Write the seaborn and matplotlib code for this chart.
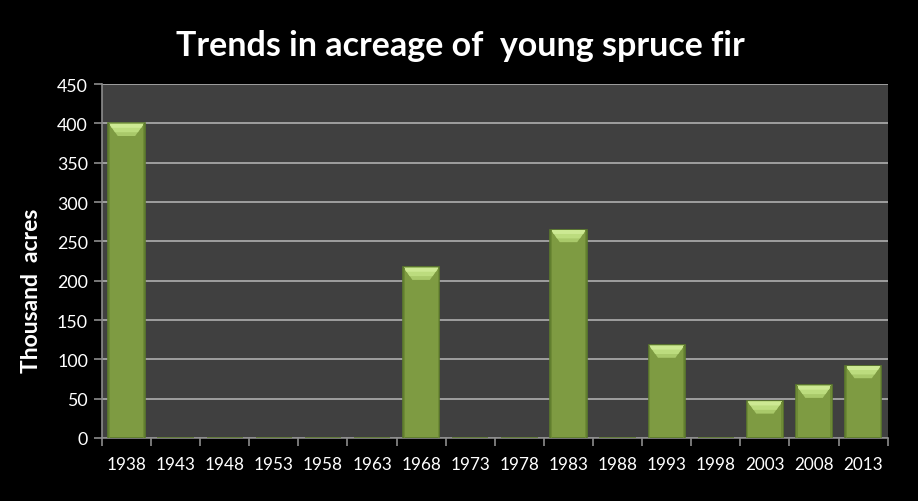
import matplotlib
matplotlib.use("Agg")
import matplotlib.pyplot as plt
from matplotlib.patches import Polygon
import seaborn as sns
import pandas as pd

years = ["1938", "1943", "1948", "1953", "1958", "1963", "1968", "1973",
         "1978", "1983", "1988", "1993", "1998", "2003", "2008", "2013"]
acres = [400, 0, 0, 0, 0, 0, 217, 0, 0, 265, 0, 118, 0, 47, 67, 92]
y_ticks = [0, 50, 100, 150, 200, 250, 300, 350, 400, 450]

df = pd.DataFrame({"year": years, "acres": acres})

sns.set_theme(style="dark")
plt.rcParams["font.family"] = ["Lato", "DejaVu Sans"]

fig = plt.figure(figsize=(9.18, 5.02), dpi=100, facecolor="black")
ax = fig.add_axes([0.111, 0.1255, 0.856, 0.705])
ax.set_facecolor("#404040")

sns.barplot(data=df, x="year", y="acres", ax=ax, color="#7e9b42",
            width=0.74, saturation=1, edgecolor="#5c7a2c", linewidth=1.2,
            zorder=3)

# bevelled top on every bar: light band fading into the bar body
for bar in ax.patches[:]:
    x0, w, h = bar.get_x(), bar.get_width(), bar.get_height()
    if h <= 0:
        continue
    bev = min(16, h * 0.45)
    inset = w * 0.26
    layers = [("#a9c96a", 1.0), ("#bcdc7e", 0.7), ("#cde993", 0.35)]
    for col, frac in layers:
        d = bev * frac
        ins = inset * frac
        ax.add_patch(Polygon([(x0 + 0.02, h - 0.5), (x0 + w - 0.02, h - 0.5),
                              (x0 + w - ins, h - d), (x0 + ins, h - d)],
                             closed=True, facecolor=col, edgecolor="none",
                             zorder=4))
    # soft darker sides
    for sx in (x0 + 0.012, x0 + w - 0.035):
        ax.add_patch(Polygon([(sx, 0), (sx + 0.023, 0), (sx + 0.023, h - 1), (sx, h - 1)],
                             closed=True, facecolor="#6e8a36", edgecolor="none",
                             zorder=4))

ax.set_ylim(0, 450)
ax.set_xlim(-0.5, len(years) - 0.5)
ax.set_yticks(y_ticks)
ax.yaxis.grid(True, color="#a6a6a6", linewidth=1.3, zorder=0)
ax.xaxis.grid(False)
ax.set_axisbelow(True)

for side in ["top", "right"]:
    ax.spines[side].set_visible(False)
for side in ["left", "bottom"]:
    ax.spines[side].set_visible(True)
    ax.spines[side].set_color("#8c8c8c")
    ax.spines[side].set_linewidth(1.2)

ax.set_xticks(range(len(years)))
ax.set_xticklabels(years)
ax.set_xticks([i - 0.5 for i in range(len(years) + 1)], minor=True)
ax.tick_params(axis="x", which="major", length=0, pad=13, colors="white", labelsize=12.3)
ax.tick_params(axis="x", which="minor", length=6, width=1.2, color="#8c8c8c", bottom=True)
ax.tick_params(axis="y", length=6, width=1.2, color="#8c8c8c", colors="white",
               labelsize=12.8, left=True, pad=4)

ax.set_xlabel("")
ax.set_ylabel("Thousand  acres", color="white", fontsize=16.5, fontweight="bold")
ax.yaxis.set_label_coords(-0.076, 0.418)

fig.suptitle("Trends in acreage of  young spruce fir", color="white",
             fontsize=24.5, fontweight="bold", x=0.502, y=0.94)

fig.savefig("out.png", dpi=100, facecolor="black")
